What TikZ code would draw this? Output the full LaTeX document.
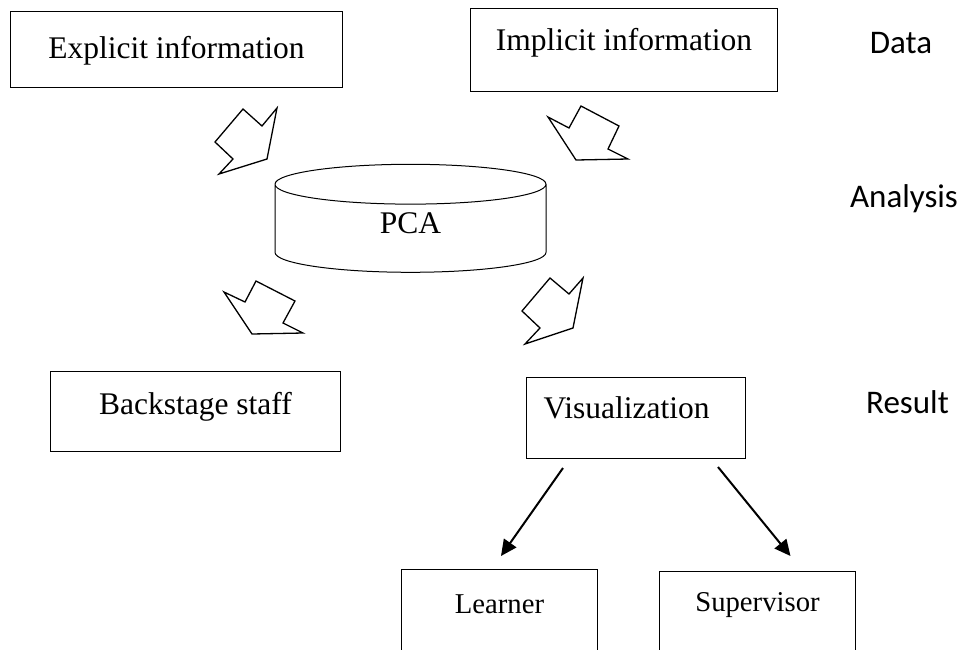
\documentclass[tikz,border=0pt]{standalone}
\usepackage{fontspec}
\setmainfont{Liberation Serif}
\newfontfamily\layerfont{Carlito}
\usetikzlibrary{shapes.geometric,arrows.meta}

\begin{document}
\begin{tikzpicture}[x=1pt,y=-1pt,
  infobox/.style={draw,rectangle,line width=1pt,inner sep=0pt,anchor=north west,font=\fontsize{31.5}{36}\selectfont},
  layer/.style={anchor=base,font=\layerfont\fontsize{33}{38}\selectfont},
  blockarrow/.style={draw,line width=1.3pt},
  flow/.style={line width=2pt,-{Triangle[length=16pt,width=15pt]}}]
\path[use as bounding box,clip] (0,0) rectangle (962,649);

% data
\node[infobox,minimum width=332pt,text height=47pt,text depth=29pt] (explicit) at (10,11) {Explicit information};
\node[infobox,minimum width=307pt,text height=42pt,text depth=41pt] (implicit) at (470,8) {Implicit information};

% analysis
\node[draw,cylinder,shape border rotate=90,aspect=0.65,minimum width=271pt,minimum height=108pt,
  inner sep=0pt,line width=1pt,text height=9pt,text depth=0pt,font=\fontsize{31.5}{36}\selectfont] (pca) at (410.5,228.5) {PCA};

% result
\node[infobox,minimum width=290pt,text height=43pt,text depth=37pt] (backstage) at (50,371) {Backstage staff};
\node[infobox,inner xsep=17pt,text width=185pt,align=left,text height=41pt,text depth=40pt] (vis) at (526,377) {Visualization};
\node[infobox,minimum width=196pt,text height=44pt,text depth=80pt,font=\fontsize{28.7}{34}\selectfont] (learner) at (401,569) {Learner};
\node[infobox,minimum width=196pt,text height=40pt,text depth=80pt,font=\fontsize{28.7}{34}\selectfont] (supervisor) at (659,571) {Supervisor};

% block arrows
\draw[blockarrow] (243,109) -- (262,126) -- (277,108) -- (267,159) -- (219,174) -- (233,159) -- (215,142) -- cycle;
\draw[blockarrow] (548,117) -- (569,128) -- (581,106) -- (619,126) -- (608,149) -- (628,159) -- (576,160) -- cycle;
\draw[blockarrow] (224,292) -- (245,302) -- (256,281) -- (295,301) -- (283,323) -- (303,333) -- (252,334) -- cycle;
\draw[blockarrow] (550,278) -- (569,294) -- (583,278) -- (573,328) -- (525,344) -- (540,328) -- (522,311) -- cycle;

\draw[flow] ([xshift=37pt,yshift=-9pt]vis.south west) -- ([xshift=100pt,yshift=13pt]learner.north west);
\draw[flow] ([xshift=-28pt,yshift=-8pt]vis.south east) -- ([xshift=33pt,yshift=15pt]supervisor.north);

% layers
\foreach \name/\x/\y/\txt in {data/901/53/Data,analysis/904/207/Analysis,result/907.5/413/Result}
  \node[layer] (\name) at (\x,\y) {\txt};
\end{tikzpicture}
\end{document}
